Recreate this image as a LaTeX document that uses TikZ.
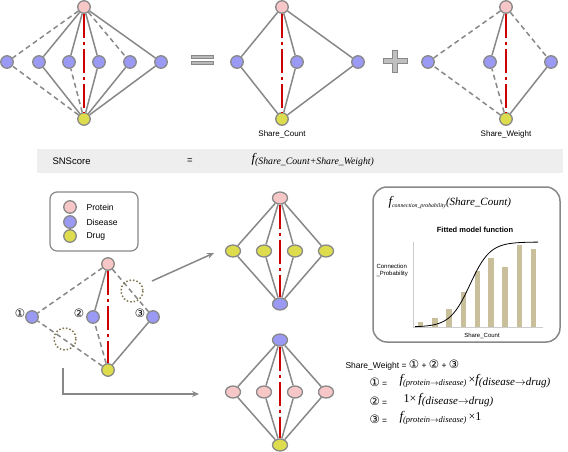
\documentclass[tikz,border=0pt]{standalone}
\usepackage{fontspec}
\setmainfont{Liberation Sans}
\newfontfamily\serif{Liberation Serif}
\newfontfamily\sym{DejaVu Sans}
\usetikzlibrary{shapes.geometric,arrows.meta}
\definecolor{pk}{HTML}{F7C6C6}
\definecolor{bl}{HTML}{9A9AF5}
\definecolor{yl}{HTML}{DCDC4C}
\definecolor{edg}{HTML}{888888}
\definecolor{rd}{HTML}{CC0000}
\definecolor{barc}{HTML}{C9C09B}
\definecolor{olv}{HTML}{7F7450}
\newcommand\fsb[3]{{\serif\itshape\fontsize{#1}{#1}\selectfont f}\raisebox{-2pt}{\serif\itshape\fontsize{#2}{#2}\selectfont #3}}
\newcommand\cn[1]{{\sym\fontsize{11.5}{11.5}\selectfont #1}}
\begin{document}
\begin{tikzpicture}[x=1pt,y=-1pt,
  nd/.style={circle,draw=edg,line width=1.3pt,minimum size=12.5pt,inner sep=0pt},
  prot/.style={nd,fill=pk}, dis/.style={nd,fill=bl}, drg/.style={nd,fill=yl},
  ell/.style={ellipse,minimum width=15pt,minimum height=12pt},
  sl/.style={draw=edg,line width=1.5pt},
  dl/.style={sl,dash pattern=on 5pt off 3.5pt},
  rl/.style={draw=rd,line width=2.6pt,dash pattern=on 24pt off 4pt on 3pt off 4pt},
  arr/.style={draw=edg,line width=1.5pt,-{Stealth[length=7pt,width=6pt]}},
  lbl/.style={font=\fontsize{8}{9}\selectfont},
  num/.style={font=\sym\fontsize{11.5}{11.5}\selectfont}]
\useasboundingbox (0,0) rectangle (568,452);
% ---------- top-left graph
\node[prot] (a0) at (84,7) {};
\node[dis] (a1) at (7,62) {};
\node[dis] (a2) at (39,62) {};
\node[dis] (a3) at (69,62) {};
\node[dis] (a4) at (99,62) {};
\node[dis] (a5) at (130,62) {};
\node[dis] (a6) at (161,62) {};
\node[drg] (a7) at (84,119) {};
\draw[dl] (a0)--(a1); \draw[sl] (a0)--(a2); \draw[sl] (a0)--(a3);
\draw[sl] (a0)--(a4); \draw[dl] (a0)--(a5); \draw[sl] (a0)--(a6);
\draw[dl] (a7)--(a1); \draw[sl] (a7)--(a2); \draw[dl] (a7)--(a3);
\draw[sl] (a7)--(a4); \draw[sl] (a7)--(a5); \draw[sl] (a7)--(a6);
\draw[rl] (a0)--(a7);
% equals sign
\draw[edg,fill=gray!55,line width=0.6pt] (191,55.5) rectangle (213,58.5);
\draw[edg,fill=gray!55,line width=0.6pt] (191,61) rectangle (213,64);
% ---------- Share_Count graph
\node[prot] (b0) at (282,7) {};
\node[dis] (b1) at (237,62) {};
\node[dis] (b2) at (297,62) {};
\node[dis] (b3) at (358,62) {};
\node[drg] (b4) at (282,119) {};
\foreach \i in {1,2,3}{\draw[sl] (b0)--(b\i); \draw[sl] (b4)--(b\i);}
\draw[rl] (b0)--(b4);
\node[lbl] (bl) at (282,134) {Share\_Count};
% plus sign
\draw[edg,fill=gray!50,line width=0.6pt] (392.5,50)--(397.5,50)--(397.5,58.5)--(407,58.5)--(407,63.5)--(397.5,63.5)--(397.5,72)--(392.5,72)--(392.5,63.5)--(383,63.5)--(383,58.5)--(392.5,58.5)--cycle;
% ---------- Share_Weight graph
\node[prot] (c0) at (506,7) {};
\node[dis] (c1) at (428,62) {};
\node[dis] (c2) at (490,62) {};
\node[dis] (c3) at (551,62) {};
\node[drg] (c4) at (506,119) {};
\draw[dl] (c0)--(c1); \draw[sl] (c0)--(c2); \draw[dl] (c0)--(c3);
\draw[dl] (c4)--(c1); \draw[dl] (c4)--(c2); \draw[sl] (c4)--(c3);
\draw[rl] (c0)--(c4);
\node[lbl] (cl) at (506,134) {Share\_Weight};
% ---------- SNScore band
\fill[gray!13] (37,149) rectangle (563,173);
\node[anchor=west,font=\fontsize{9.5}{10}\selectfont] (sn) at (49,161) {SNScore};
\node[font=\fontsize{9.5}{10}\selectfont] (eq) at (190,161) {=};
\node[anchor=west] (snf) at (248,160) {\fsb{13}{9.8}{(Share\_Count+Share\_Weight)}};
% ---------- legend
\draw[edg,line width=1.2pt,rounded corners=7pt,fill=white] (50,192) rectangle (138,251);
\node[prot] (lp) at (70,207) {};
\node[dis] (ld) at (70,222) {};
\node[drg] (lg) at (70,236) {};
\node[anchor=west,font=\fontsize{8.6}{9}\selectfont] at (83,207) {Protein};
\node[anchor=west,font=\fontsize{8.6}{9}\selectfont] at (83,222) {Disease};
\node[anchor=west,font=\fontsize{8.6}{9}\selectfont] at (83,236) {Drug};
% ---------- lower-left graph
\node[prot] (d0) at (108,264) {};
\node[dis] (d1) at (32,317) {};
\node[dis] (d2) at (93,317) {};
\node[dis] (d3) at (153,317) {};
\node[drg] (d4) at (108,370) {};
\draw[dl] (d0)--(d1); \draw[sl] (d0)--(d2); \draw[dl] (d0)--(d3);
\draw[dl] (d4)--(d1); \draw[dl] (d4)--(d2); \draw[sl] (d4)--(d3);
\draw[rl] (d0)--(d4);
\node[num] (n1) at (20,313) {①};
\node[num] (n2) at (79,313) {②};
\node[num] (n3) at (140,313) {③};
\draw[olv,line width=1.5pt,dotted] (132,291) circle (11);
\draw[olv,line width=1.5pt,dotted] (65,339) circle (11);
% arrows
\coordinate (p1) at (152,281);
\coordinate (p2) at (214,253);
\draw[arr] (p1)--(p2);
\coordinate (q1) at (63,368);
\coordinate (q2) at (199,394);
\draw[arr] (q1)|-(q2);
% ---------- right graph 1
\node[prot,ell] (e0) at (280,198) {};
\node[drg,ell] (e1) at (233,251) {};
\node[drg,ell] (e2) at (264,251) {};
\node[drg,ell] (e3) at (295,251) {};
\node[drg,ell] (e4) at (326,251) {};
\node[dis,ell] (e5) at (280,304) {};
\foreach \i in {1,2,3,4}{\draw[sl] (e0)--(e\i); \draw[sl] (e5)--(e\i);}
\draw[rl] (e0)--(e5);
% ---------- right graph 2
\node[dis,ell] (f0) at (280,340) {};
\node[prot,ell] (f1) at (233,392) {};
\node[prot,ell] (f2) at (264,392) {};
\node[prot,ell] (f3) at (295,392) {};
\node[prot,ell] (f4) at (326,392) {};
\node[drg,ell] (f5) at (280,445) {};
\foreach \i in {1,2,3,4}{\draw[sl] (f0)--(f\i); \draw[sl] (f5)--(f\i);}
\draw[rl] (f0)--(f5);
% ---------- fitted model box
\draw[edg,line width=1.5pt,rounded corners=14pt] (373,187) rectangle (560,342);
\node[anchor=west] (ft) at (385,203) {{\serif\itshape\fontsize{13}{13}\selectfont f}\raisebox{-2pt}{\serif\itshape\fontsize{5.8}{6}\selectfont connection\_probability}{\serif\itshape\fontsize{11}{11}\selectfont (Share\_Count)}};
\node[font=\bfseries\fontsize{7.5}{8}\selectfont] (fm) at (475,230) {Fitted model function};
\draw[gray!40,line width=0.6pt] (413,242)--(413,327)--(543,327);
\foreach \xx/\yy in {420.7/321.7,435/317.7,449/309,463.3/292.3,477.3/271,491/257.7,505/266.7,519.3/245,533.3/249}
  \fill[barc] (\xx-2.6,327) rectangle (\xx+2.6,\yy);
\draw[black,line width=0.8pt] plot[domain=415:538,samples=80] (\x,{327-85/(1+exp(-(\x-470)/10))});
\node[anchor=west,font=\fontsize{6}{7}\selectfont,align=left] (cp) at (373,270) {Connection\\\_Probability};
\node[font=\fontsize{6}{7}\selectfont] (sc) at (482,336) {Share\_Count};
% ---------- share weight formulas
\node[anchor=west,font=\fontsize{8.5}{9}\selectfont] (sw) at (342,365) {Share\_Weight = \cn{①} + \cn{②} + \cn{③}};
\node[anchor=west,font=\fontsize{8.5}{9}\selectfont] (r1) at (366,382) {\cn{①} =};
\node[anchor=west] (r1f) at (396,381) {\fsb{13}{8.5}{(protein$\to$disease)}{\serif\fontsize{12}{12}\selectfont\,×}\fsb{13}{11}{(disease$\to$drug)}};
\node[anchor=west,font=\fontsize{8.5}{9}\selectfont] (r2) at (366,401) {\cn{②} =};
\node[anchor=west] (r2f) at (400,400) {{\serif\fontsize{12}{12}\selectfont 1×\,}\fsb{13}{11}{(disease$\to$drug)}};
\node[anchor=west,font=\fontsize{8.5}{9}\selectfont] (r3) at (366,419) {\cn{③} =};
\node[anchor=west] (r3f) at (396,418) {\fsb{13}{8.5}{(protein$\to$disease)}{\serif\fontsize{12}{12}\selectfont\,×1}};
\end{tikzpicture}
\end{document}
